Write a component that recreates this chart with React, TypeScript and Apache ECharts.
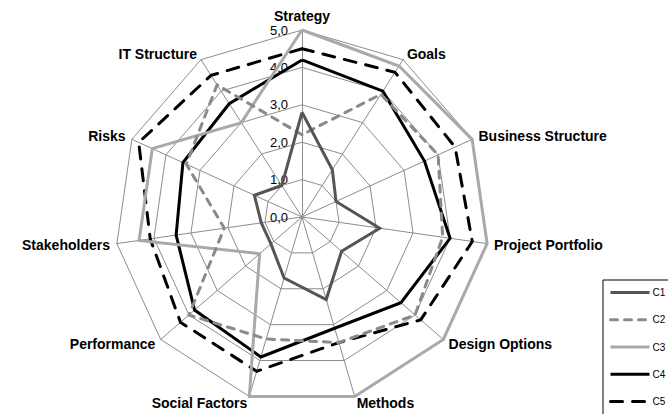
import React, { useEffect, useRef } from "react";
import * as echarts from "echarts";

// Indicators in clockwise order starting from the top
const indicatorNames = [
  "Strategy",
  "Goals",
  "Business Structure",
  "Project Portfolio",
  "Design Options",
  "Methods",
  "Social Factors",
  "Performance",
  "Stakeholders",
  "Risks",
  "IT Structure",
];
const seriesNames = ["C1", "C2", "C3", "C4", "C5"];
const c1 = [2.8, 1.5, 1.0, 2.1, 1.4, 2.3, 1.7, 1.1, 1.1, 1.4, 1.0];
const c2 = [2.2, 3.9, 4.0, 3.8, 4.0, 3.5, 3.4, 4.0, 2.1, 3.4, 4.2];
const c3 = [5.0, 4.8, 5.0, 5.0, 5.0, 5.0, 5.0, 1.5, 4.4, 4.4, 3.0];
const c4 = [4.2, 4.0, 3.6, 4.0, 3.5, 3.1, 3.9, 3.8, 3.4, 3.5, 3.6];
const c5 = [4.5, 4.6, 4.5, 4.6, 4.2, 3.5, 4.3, 4.3, 4.1, 4.8, 4.5];
const axisMin = 0;
const axisMax = 5;

const FONT = "'Liberation Sans', Arial, sans-serif";

export default function App() {
  const ref = useRef<HTMLDivElement>(null);
  useEffect(() => {
    if (!ref.current) return;
    const chart = echarts.init(ref.current, undefined, { renderer: "svg" });
    // ECharts places radar indicators counter-clockwise; reorder to get clockwise.
    const order = [0, ...indicatorNames.map((_, i) => i).slice(1).reverse()];
    const reorder = (arr: number[]) => order.map((i) => arr[i]);
    const values = [c1, c2, c3, c4, c5];
    const styles = [
      { color: "#555555", type: "solid" as any, cap: "butt" },
      { color: "#8a8a8a", type: [7, 7] as any, cap: "round" },
      { color: "#a9a9a9", type: "solid" as any, cap: "butt" },
      { color: "#000000", type: "solid" as any, cap: "butt" },
      { color: "#000000", type: [12, 10] as any, cap: "round" },
    ];
    const lineSeries = seriesNames.map((n, i) => ({
      type: "line",
      name: n,
      data: [],
      symbol: "none",
      color: styles[i].color,
      lineStyle: { width: 3, color: styles[i].color, type: styles[i].type, cap: styles[i].cap },
    }));
    const radarSeries = seriesNames.map((n, i) => ({
      type: "radar",
      name: n,
      symbol: "none",
      color: styles[i].color,
      lineStyle: { width: 3, color: styles[i].color, type: styles[i].type, cap: styles[i].cap, join: "miter" },
      data: [{ name: n, value: reorder(values[i]) }],
      z: 10 - i,
    }));
    chart.setOption({
      animation: false,
      textStyle: { fontFamily: FONT },
      grid: { show: false, left: 0, top: 0, width: 1, height: 1 },
      xAxis: { type: "value", show: false },
      yAxis: { type: "value", show: false },
      legend: {
        data: seriesNames,
        orient: "vertical",
        left: 603,
        top: 280,
        width: 100,
        height: 200,
        padding: [7, 30, 14, 6],
        borderColor: "#000",
        borderWidth: 1,
        itemWidth: 39,
        itemHeight: 14,
        itemGap: 16,
        itemStyle: { opacity: 0 },
        lineStyle: { width: 3 },
        textStyle: { fontSize: 10, color: "#000", fontFamily: "'Liberation Sans Narrow', " + FONT, padding: [0, 0, 0, -2] },
      },
      radar: {
        center: [302, 217],
        radius: 187,
        shape: "polygon",
        splitNumber: 5,
        nameGap: 7,
        axisName: { color: "#000", fontSize: 14, fontWeight: "bold", fontFamily: FONT },
        splitLine: { lineStyle: { color: "#8c8c8c", width: 1 } },
        splitArea: { show: false },
        axisLine: { lineStyle: { color: "#8c8c8c", width: 1 } },
        axisTick: { show: false },
        axisLabel: { show: false },
        indicator: order.map((i) => ({
          name: indicatorNames[i],
          min: axisMin,
          max: axisMax,
          ...(i === 0
            ? {
                axisLabel: {
                  show: true,
                  margin: 14,
                  fontSize: 13,
                  color: "#000",
                  fontFamily: FONT,
                  formatter: (v: number) => v.toFixed(1).replace(".", ","),
                },
              }
            : {}),
        })),
      },
      series: [...lineSeries, ...radarSeries],
    });
    return () => chart.dispose();
  }, []);
  return (
    <div
      ref={ref}
      style={{ position: "fixed", left: 0, top: 0, width: 668, height: 414, background: "#fff" }}
    />
  );
}
